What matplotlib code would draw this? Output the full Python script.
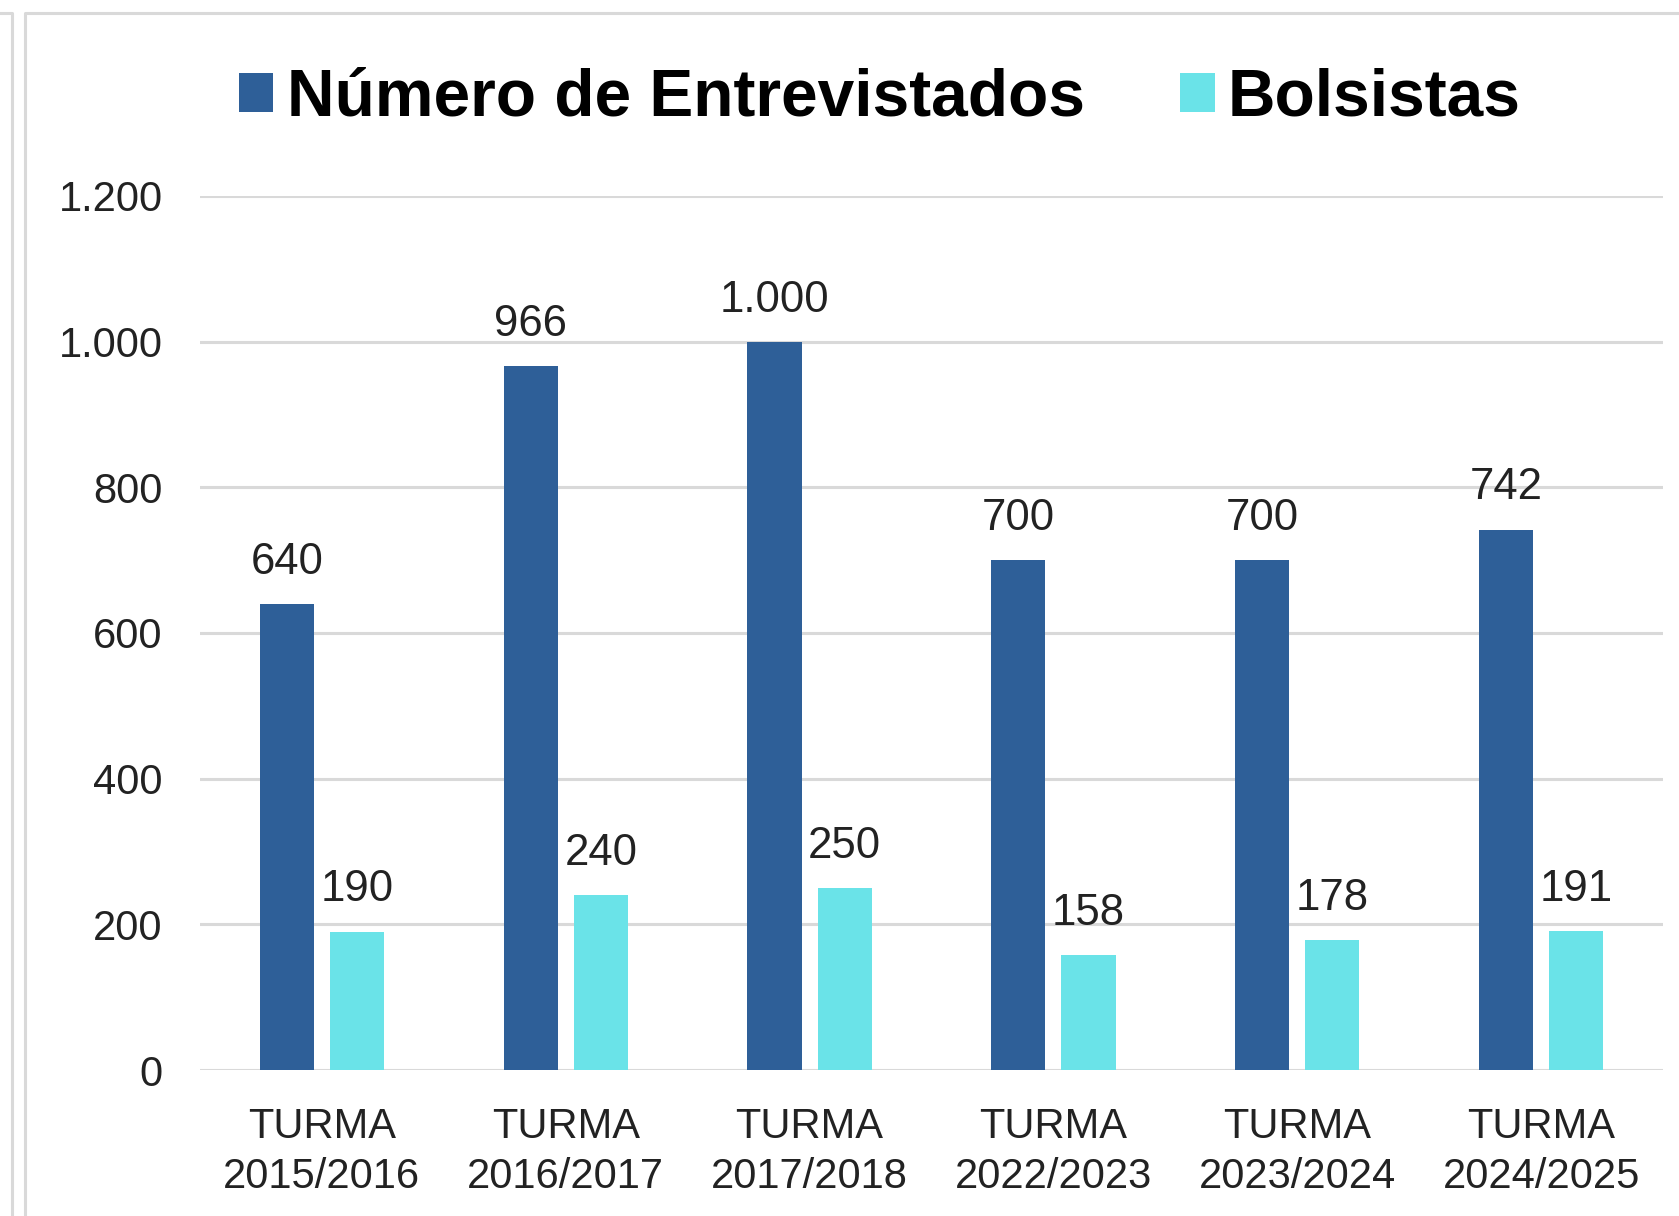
import numpy as np
import matplotlib.pyplot as plt
from matplotlib.lines import Line2D

# data
categories = ['TURMA\n2015/2016', 'TURMA\n2016/2017', 'TURMA\n2017/2018',
              'TURMA\n2022/2023', 'TURMA\n2023/2024', 'TURMA\n2024/2025']
entrevistados = [640, 966, 1000, 700, 700, 742]
bolsistas = [190, 240, 250, 158, 178, 191]
yticks = [0, 200, 400, 600, 800, 1000, 1200]

dark = '#2E5F98'
cyan = '#6AE3E8'
grid = '#D9D9D9'

plt.rcParams['font.family'] = ['Liberation Sans', 'DejaVu Sans']

W, H = 1679, 1216
fig = plt.figure(figsize=(W / 100, H / 100), dpi=100)
ax = fig.add_axes([200 / W, 1 - 1070 / H, 1463 / W, 874 / H])

x = np.arange(len(categories))
w = 0.222
off = 0.144
b1 = ax.bar(x - off, entrevistados, w, color=dark, zorder=3, label='Número de Entrevistados')
b2 = ax.bar(x + off, bolsistas, w, color=cyan, zorder=3, label='Bolsistas')


def fmt(v):
    return f'{v:,}'.replace(',', '.')


for bars, vals in ((b1, entrevistados), (b2, bolsistas)):
    for r, v in zip(bars, vals):
        ax.annotate(fmt(v), (r.get_x() + r.get_width() / 2, v),
                    xytext=(0, 30), textcoords='offset points',
                    ha='center', va='center', fontsize=31.5, color='#222222')

ax.set_xlim(-0.5, len(categories) - 0.5)
ax.set_ylim(0, 1200)
ax.set_yticks(yticks)
ax.set_yticklabels([fmt(t) for t in yticks])
ax.set_xticks(x)
ax.set_xticklabels(categories, linespacing=1.3)
ax.tick_params(axis='both', length=0, labelsize=30, colors='#222222')
ax.tick_params(axis='y', pad=27)
ax.tick_params(axis='x', pad=27)
ax.yaxis.grid(True, color=grid, linewidth=2.2, zorder=0)
ax.set_axisbelow(True)
for s in ax.spines.values():
    s.set_visible(False)

fig.legend(handles=[b1, b2], loc='center', bbox_to_anchor=(0.524, 0.919),
           ncol=2, frameon=False, prop={'weight': 'bold', 'size': 47.4},
           handlelength=0.53, handleheight=0.53, handletextpad=0.2,
           columnspacing=1.45)

# frames of the surrounding chart boxes
def fx(p):
    return p / W


def fy(p):
    return 1 - p / H


fig.add_artist(Line2D([0, fx(12), fx(12)], [fy(13), fy(13), 0], color=grid, lw=2.2))
fig.add_artist(Line2D([fx(25), fx(25), 1], [0, fy(13), fy(13)], color=grid, lw=2.2))

fig.savefig('out.png', dpi=100)
